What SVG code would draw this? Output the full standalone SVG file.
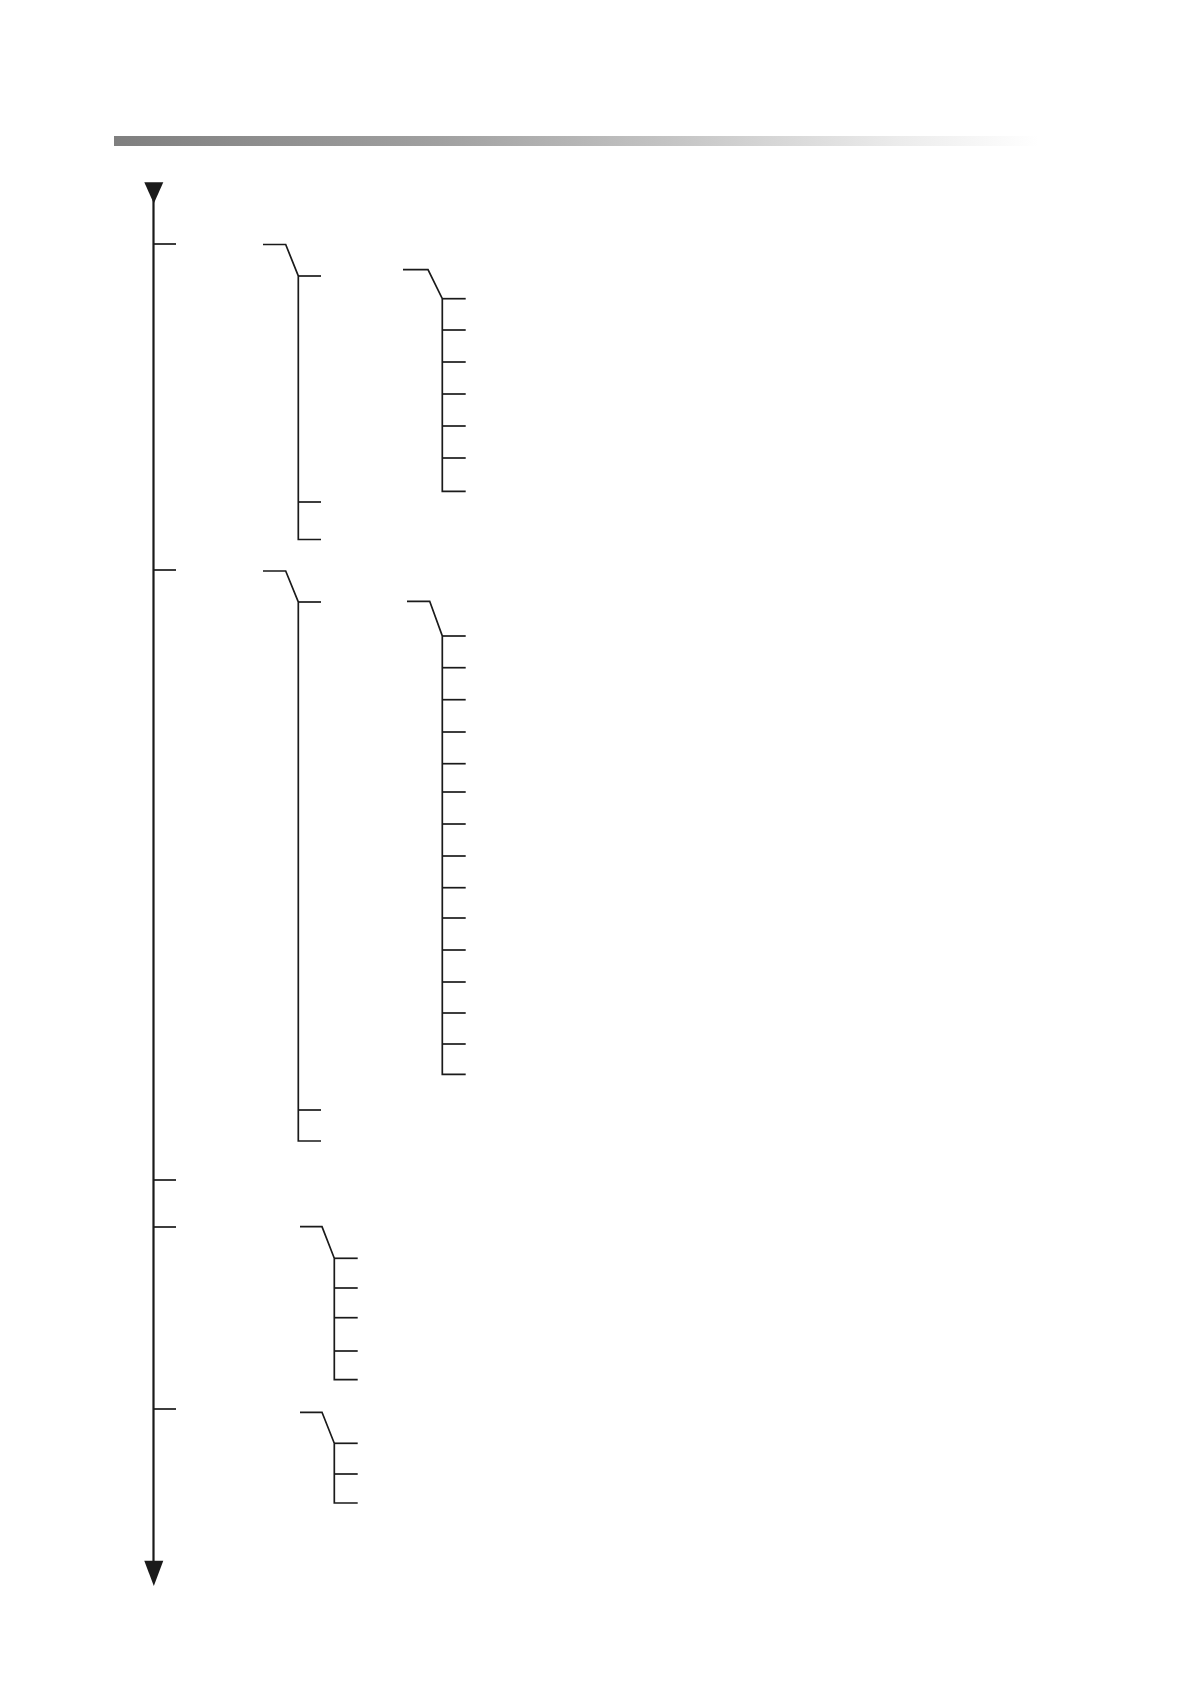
<svg xmlns="http://www.w3.org/2000/svg" width="1191" height="1684" viewBox="0 0 1191 1684">
<defs>
<linearGradient id="bar" x1="0" y1="0" x2="1" y2="0">
<stop offset="0" stop-color="#7f7f7f"/>
<stop offset="0.35" stop-color="#a0a0a0"/>
<stop offset="0.6" stop-color="#c4c4c4"/>
<stop offset="0.85" stop-color="#ececec"/>
<stop offset="1" stop-color="#ffffff"/>
</linearGradient>
</defs>
<style>
.ln{fill:none;stroke:#1a1a1a;stroke-width:1.7;stroke-linecap:butt;stroke-linejoin:miter}
.ax{fill:none;stroke:#1a1a1a;stroke-width:2.2}
.ar{fill:#1a1a1a;stroke:none}
</style>
<rect width="1191" height="1684" fill="#ffffff"/>
<rect id="header-bar" x="114" y="136" width="925" height="10" fill="url(#bar)"/>
<g id="connectors">
<g id="axis">
<line class="ax" x1="153.5" y1="195" x2="153.5" y2="1572"/>
<polygon class="ar" points="144.3,182.3 163.3,182.3 153.8,203.5"/>
<polygon class="ar" points="144.3,1560.7 163.3,1560.7 153.8,1586"/>
<line class="ln" x1="153.5" y1="244" x2="176" y2="244"/>
<line class="ln" x1="153.5" y1="570" x2="176" y2="570"/>
<line class="ln" x1="153.5" y1="1180" x2="176" y2="1180"/>
<line class="ln" x1="153.5" y1="1227" x2="176" y2="1227"/>
<line class="ln" x1="153.5" y1="1409" x2="176" y2="1409"/>
</g>
<g id="branch-1">
<polyline class="ln" points="263,244.5 285.7,244.5 298.3,276 298.3,539.5 321,539.5"/>
<line class="ln" x1="298.3" y1="276" x2="321" y2="276"/>
<line class="ln" x1="298.3" y1="502" x2="321" y2="502"/>
</g>
<g id="branch-1-1">
<polyline class="ln" points="403,269.7 428,269.7 442.3,298.7 442.3,491.3 465.7,491.3"/>
<line class="ln" x1="442.3" y1="298.7" x2="465.7" y2="298.7"/>
<line class="ln" x1="442.3" y1="330" x2="465.7" y2="330"/>
<line class="ln" x1="442.3" y1="362" x2="465.7" y2="362"/>
<line class="ln" x1="442.3" y1="394" x2="465.7" y2="394"/>
<line class="ln" x1="442.3" y1="426" x2="465.7" y2="426"/>
<line class="ln" x1="442.3" y1="458" x2="465.7" y2="458"/>
</g>
<g id="branch-2">
<polyline class="ln" points="263,571 285.7,571 298.3,602 298.3,1141 321,1141"/>
<line class="ln" x1="298.3" y1="602" x2="321" y2="602"/>
<line class="ln" x1="298.3" y1="1110" x2="321" y2="1110"/>
</g>
<g id="branch-2-1">
<polyline class="ln" points="407,601.3 429.7,601.3 442.3,636 442.3,1074.3 465.7,1074.3"/>
<line class="ln" x1="442.3" y1="636" x2="465.7" y2="636"/>
<line class="ln" x1="442.3" y1="667.7" x2="465.7" y2="667.7"/>
<line class="ln" x1="442.3" y1="699.7" x2="465.7" y2="699.7"/>
<line class="ln" x1="442.3" y1="732" x2="465.7" y2="732"/>
<line class="ln" x1="442.3" y1="763.7" x2="465.7" y2="763.7"/>
<line class="ln" x1="442.3" y1="792" x2="465.7" y2="792"/>
<line class="ln" x1="442.3" y1="824" x2="465.7" y2="824"/>
<line class="ln" x1="442.3" y1="856" x2="465.7" y2="856"/>
<line class="ln" x1="442.3" y1="887.7" x2="465.7" y2="887.7"/>
<line class="ln" x1="442.3" y1="918" x2="465.7" y2="918"/>
<line class="ln" x1="442.3" y1="950" x2="465.7" y2="950"/>
<line class="ln" x1="442.3" y1="982" x2="465.7" y2="982"/>
<line class="ln" x1="442.3" y1="1013" x2="465.7" y2="1013"/>
<line class="ln" x1="442.3" y1="1044" x2="465.7" y2="1044"/>
</g>
<g id="branch-4">
<polyline class="ln" points="300,1226.7 322,1226.7 334.3,1258.3 334.3,1379.7 357.7,1379.7"/>
<line class="ln" x1="334.3" y1="1258.3" x2="357.7" y2="1258.3"/>
<line class="ln" x1="334.3" y1="1288" x2="357.7" y2="1288"/>
<line class="ln" x1="334.3" y1="1317.7" x2="357.7" y2="1317.7"/>
<line class="ln" x1="334.3" y1="1351" x2="357.7" y2="1351"/>
</g>
<g id="branch-5">
<polyline class="ln" points="300,1412.3 322,1412.3 334.3,1443.3 334.3,1503 357.7,1503"/>
<line class="ln" x1="334.3" y1="1443.3" x2="357.7" y2="1443.3"/>
<line class="ln" x1="334.3" y1="1474" x2="357.7" y2="1474"/>
</g>
</g>
</svg>
